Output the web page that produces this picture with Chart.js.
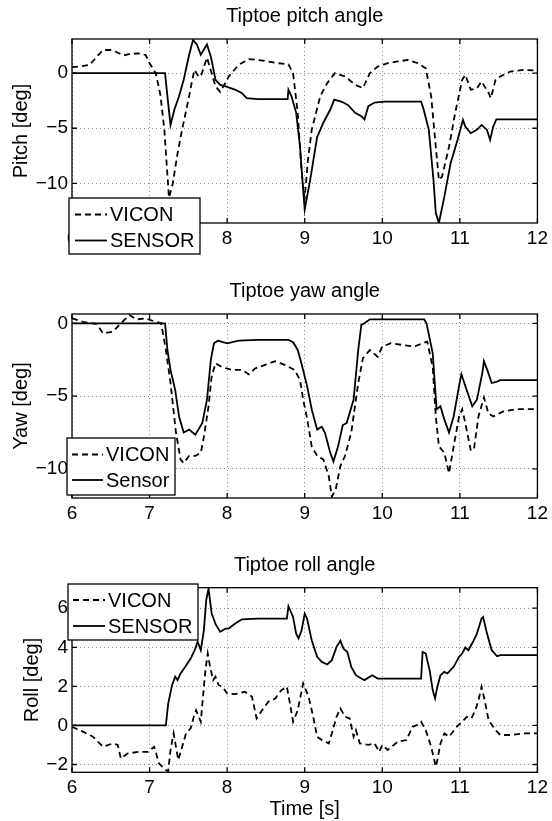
<!DOCTYPE html>
<html>
<head>
<meta charset="utf-8">
<title>Tiptoe angles</title>
<script src="https://cdn.jsdelivr.net/npm/chart.js@4.4.1/dist/chart.umd.min.js"></script>
<style>
    body { margin: 0; background: #fff; }
    .wrap { position: relative; width: 552px; height: 821px; }
    canvas { position: absolute; left: 0; }
</style>
</head>
<body>
<div class="wrap">
    <canvas id="pitchChart" width="552" height="270" style="top:0px"></canvas>
    <canvas id="yawChart" width="552" height="270" style="top:270px"></canvas>
    <canvas id="rollChart" width="552" height="281" style="top:540px"></canvas>
</div>
<script>
// Shared x axis
const timeTicks = [6, 7, 8, 9, 10, 11, 12];

// Pitch
const pitchTicks = [-10, -5, 0];
const pitchViconT = [6.00, 6.10, 6.23, 6.32, 6.40, 6.50, 6.58, 6.66, 6.75, 6.85, 6.95, 7.00, 7.08, 7.14, 7.19, 7.25, 7.30, 7.36, 7.42, 7.51, 7.55, 7.58, 7.63, 7.66, 7.74, 7.80, 7.85, 7.91, 7.96, 8.02, 8.15, 8.28, 8.40, 8.53, 8.66, 8.79, 8.85, 8.91, 8.95, 8.98, 9.00, 9.04, 9.09, 9.20, 9.29, 9.39, 9.52, 9.65, 9.75, 9.84, 9.94, 10.07, 10.20, 10.33, 10.46, 10.56, 10.63, 10.69, 10.73, 10.77, 10.86, 10.94, 11.03, 11.07, 11.14, 11.22, 11.28, 11.37, 11.40, 11.46, 11.52, 11.65, 11.82, 12.00];
const pitchViconV = [0.55, 0.6, 0.76, 1.5, 2.1, 2.1, 1.9, 1.6, 1.75, 1.8, 1.65, 0.9, 0, -2.0, -5.1, -11.3, -10.0, -7.3, -5.1, -2.1, -0.6, 0.3, -0.3, -0.3, 1.4, 0, -1.2, -1.7, -1.1, -0.3, 0.76, 1.27, 1.2, 1.06, 0.9, 0.8, 0, -3.6, -8.0, -10.5, -11.3, -8.0, -5.15, -2.1, -0.9, 0, -0.3, -1.06, -1.36, 0, 0.6, 0.9, 1.06, 1.2, 0.9, 0.45, -2.1, -6.7, -9.7, -9.4, -6.7, -3.6, -0.6, -0.15, -1.5, -1.36, -0.76, -1.8, -2.27, -0.6, -0.3, 0.15, 0.3, 0.24];
const pitchSensorT = [6.00, 7.20, 7.23, 7.27, 7.32, 7.38, 7.44, 7.51, 7.56, 7.61, 7.66, 7.74, 7.79, 7.85, 7.91, 7.98, 8.10, 8.19, 8.25, 8.40, 8.78, 8.79, 8.83, 8.89, 8.94, 8.98, 9.00, 9.07, 9.16, 9.24, 9.33, 9.38, 9.48, 9.56, 9.65, 9.73, 9.77, 9.82, 9.90, 10.03, 10.50, 10.53, 10.60, 10.66, 10.69, 10.73, 10.80, 10.88, 10.97, 11.04, 11.07, 11.14, 11.22, 11.28, 11.35, 11.39, 11.43, 11.47, 12.00];
const pitchSensorV = [0, 0, -2.1, -4.7, -3.3, -2.1, -0.6, 1.67, 3.0, 2.6, 1.67, 2.6, 1.5, -0.6, -1.06, -1.2, -1.5, -1.8, -2.27, -2.36, -2.36, -1.5, -2.1, -3.6, -6.7, -10.6, -12.4, -9.7, -5.8, -4.5, -3.3, -2.4, -2.6, -2.9, -3.6, -3.9, -4.2, -3.0, -2.67, -2.58, -2.58, -3.2, -5.15, -9.7, -12.7, -13.6, -11.2, -8.2, -6.06, -4.24, -4.85, -5.45, -5.15, -4.7, -5.15, -6.06, -4.85, -4.2, -4.2];

// Yaw
const yawTicks = [-10, -5, 0];
const yawViconT = [6.00, 6.14, 6.32, 6.40, 6.53, 6.61, 6.74, 6.83, 6.95, 7.08, 7.15, 7.21, 7.27, 7.34, 7.40, 7.44, 7.51, 7.59, 7.66, 7.70, 7.76, 7.80, 7.85, 7.93, 8.06, 8.19, 8.28, 8.36, 8.49, 8.62, 8.74, 8.87, 8.94, 8.98, 9.03, 9.09, 9.16, 9.24, 9.31, 9.35, 9.40, 9.46, 9.52, 9.60, 9.69, 9.75, 9.84, 9.94, 10.00, 10.11, 10.28, 10.41, 10.52, 10.58, 10.65, 10.69, 10.73, 10.80, 10.86, 10.92, 10.99, 11.03, 11.07, 11.14, 11.18, 11.24, 11.31, 11.37, 11.43, 11.56, 11.73, 12.00];
const yawViconV = [0.34, 0.1, -0.05, -0.7, -0.57, -0.1, 0.57, 0.27, 0.34, 0.1, 0, -1.83, -4.1, -7.5, -9.36, -9.6, -9.1, -9.1, -8.9, -7.8, -5.7, -3.65, -2.74, -3.0, -3.2, -3.2, -3.5, -3.1, -2.85, -2.6, -2.85, -3.2, -3.9, -5.25, -6.5, -8.45, -9.1, -9.36, -10.5, -11.9, -11.4, -9.8, -9.1, -7.5, -4.1, -2.4, -1.83, -2.3, -1.6, -1.37, -1.5, -1.6, -1.37, -1.26, -3.0, -6.4, -8.45, -8.9, -10.3, -8.45, -6.4, -5.9, -6.85, -8.7, -8.7, -6.4, -5.1, -6.2, -6.4, -6.05, -5.9, -5.9];
const yawSensorT = [6.00, 7.20, 7.23, 7.27, 7.33, 7.38, 7.44, 7.51, 7.59, 7.68, 7.74, 7.79, 7.83, 7.88, 8.00, 8.15, 8.40, 8.79, 8.85, 8.91, 8.96, 9.00, 9.03, 9.09, 9.16, 9.22, 9.26, 9.33, 9.37, 9.43, 9.49, 9.54, 9.63, 9.69, 9.73, 9.77, 9.84, 10.54, 10.57, 10.65, 10.70, 10.75, 10.80, 10.86, 10.92, 10.99, 11.02, 11.07, 11.16, 11.22, 11.29, 11.31, 11.36, 11.41, 11.48, 11.52, 12.00];
const yawSensorV = [0, 0, -1.83, -3.2, -4.57, -6.4, -7.5, -7.3, -7.65, -6.85, -5.25, -2.5, -1.37, -1.19, -1.37, -1.19, -1.14, -1.14, -1.3, -1.83, -2.8, -3.65, -4.3, -5.9, -7.3, -7.1, -7.5, -8.9, -9.5, -8.45, -7.0, -6.85, -5.25, -1.83, -0.11, 0, 0.27, 0.27, 0, -2.05, -5.9, -5.7, -6.6, -7.5, -6.4, -4.3, -3.5, -4.3, -5.7, -5.25, -3.4, -2.6, -3.3, -4.1, -4.0, -3.9, -3.9];

// Roll
const rollTicks = [-2, 0, 2, 4, 6];
const rollViconT = [6.00, 6.14, 6.27, 6.40, 6.53, 6.59, 6.63, 6.72, 6.87, 6.98, 7.06, 7.12, 7.21, 7.24, 7.27, 7.31, 7.34, 7.37, 7.42, 7.47, 7.53, 7.57, 7.60, 7.66, 7.70, 7.72, 7.75, 7.78, 7.82, 7.85, 7.89, 7.94, 8.00, 8.10, 8.23, 8.32, 8.38, 8.45, 8.53, 8.62, 8.70, 8.77, 8.81, 8.85, 8.91, 8.98, 9.05, 9.11, 9.16, 9.22, 9.31, 9.35, 9.41, 9.46, 9.52, 9.58, 9.63, 9.66, 9.71, 9.82, 9.90, 9.96, 10.00, 10.07, 10.20, 10.31, 10.39, 10.45, 10.50, 10.56, 10.63, 10.69, 10.71, 10.75, 10.80, 10.86, 10.96, 11.03, 11.09, 11.15, 11.20, 11.24, 11.28, 11.32, 11.37, 11.46, 11.52, 11.65, 11.82, 12.00];
const rollViconV = [-0.07, -0.32, -0.58, -1.09, -0.92, -1.0, -1.69, -1.43, -1.35, -1.35, -1.09, -1.94, -2.28, -2.35, -1.26, -0.41, -1.09, -1.77, -1.09, -0.41, -0.15, 0.44, 0.78, 0.19, 1.98, 2.83, 3.68, 3.0, 2.32, 2.49, 2.06, 1.98, 1.64, 1.6, 1.72, 1.47, 0.36, 0.78, 1.21, 1.38, 1.81, 1.98, 1.12, 0.19, 0.78, 2.15, 1.47, 0.44, -0.58, -0.75, -0.92, -0.41, 0.44, 0.87, 0.44, 0.36, -0.58, -0.24, -0.92, -1.0, -0.92, -1.35, -1.0, -1.26, -0.83, -0.75, -0.07, 0.02, 0.19, -0.24, -1.09, -2.11, -1.77, -0.92, -0.41, -0.58, -0.07, 0.19, 0.44, 0.36, 0.78, 1.29, 1.98, 1.29, 0.27, -0.24, -0.49, -0.49, -0.41, -0.41];
const rollSensorT = [6.00, 7.21, 7.24, 7.29, 7.33, 7.36, 7.40, 7.46, 7.53, 7.59, 7.62, 7.66, 7.70, 7.73, 7.76, 7.80, 7.85, 7.91, 7.98, 8.02, 8.10, 8.19, 8.40, 8.77, 8.79, 8.85, 8.89, 8.92, 8.96, 9.00, 9.03, 9.09, 9.16, 9.22, 9.29, 9.35, 9.41, 9.46, 9.50, 9.55, 9.60, 9.66, 9.73, 9.77, 9.87, 9.94, 10.50, 10.52, 10.56, 10.61, 10.65, 10.68, 10.71, 10.75, 10.80, 10.84, 10.92, 10.99, 11.03, 11.07, 11.11, 11.18, 11.22, 11.28, 11.30, 11.35, 11.41, 11.48, 11.52, 12.00];
const rollSensorV = [0, 0, 1.12, 2.06, 2.49, 2.32, 2.66, 3.0, 3.42, 3.93, 4.28, 3.85, 4.87, 6.4, 7.0, 5.74, 5.2, 4.79, 4.96, 4.96, 5.2, 5.43, 5.47, 5.47, 6.1, 5.55, 4.7, 4.45, 4.87, 5.72, 5.47, 4.36, 3.51, 3.25, 3.12, 3.34, 4.02, 4.33, 3.93, 3.76, 3.0, 2.57, 2.4, 2.32, 2.57, 2.4, 2.4, 3.76, 3.68, 2.83, 1.81, 1.38, 1.98, 2.57, 2.74, 2.66, 3.0, 3.51, 3.68, 3.99, 3.85, 4.36, 4.7, 5.47, 5.55, 4.7, 3.85, 3.54, 3.6, 3.6];

const FONT = 'Liberation Sans, Arial, Helvetica, sans-serif';

function toPoints(ts, vs) {
    return ts.map((t, i) => ({ x: t, y: vs[i] }));
}

function minusSign(value) {
    return String(value).replace('-', '\u2212');
}

// MATLAB style box with inward ticks, plus a hand drawn legend
const frameLegend = {
    id: 'frameLegend',
    afterDatasetsDraw(chart) {
        const { ctx, chartArea: a, scales } = chart;
        ctx.save();
        ctx.strokeStyle = '#000';
        ctx.lineWidth = 1.3;
        ctx.setLineDash([]);
        ctx.strokeRect(a.left, a.top, a.right - a.left, a.bottom - a.top);
        ctx.beginPath();
        scales.x.ticks.forEach(t => {
            const px = scales.x.getPixelForValue(t.value);
            ctx.moveTo(px, a.bottom); ctx.lineTo(px, a.bottom - 5);
            ctx.moveTo(px, a.top); ctx.lineTo(px, a.top + 5);
        });
        scales.y.ticks.forEach(t => {
            const py = scales.y.getPixelForValue(t.value);
            ctx.moveTo(a.left, py); ctx.lineTo(a.left + 5, py);
            ctx.moveTo(a.right, py); ctx.lineTo(a.right - 5, py);
        });
        ctx.stroke();
        ctx.restore();
    },
    afterDraw(chart, args, opts) {
        const ctx = chart.ctx;
        const b = opts.box;
        ctx.save();
        ctx.fillStyle = '#fff';
        ctx.fillRect(b[0], b[1], b[2], b[3]);
        ctx.strokeStyle = '#000';
        ctx.lineWidth = 1.3;
        ctx.strokeRect(b[0], b[1], b[2], b[3]);
        chart.data.datasets.forEach((ds, i) => {
            const y = opts.rows[i];
            ctx.beginPath();
            ctx.lineWidth = 1.8;
            ctx.setLineDash(ds.borderDash || []);
            ctx.moveTo(opts.lineX[0], y);
            ctx.lineTo(opts.lineX[1], y);
            ctx.stroke();
            ctx.setLineDash([]);
            ctx.fillStyle = '#000';
            ctx.font = '20px ' + FONT;
            ctx.textBaseline = 'middle';
            ctx.textAlign = 'left';
            ctx.fillText(ds.label, opts.textX, y + 1);
        });
        ctx.restore();
    }
};

function makeChart(id, cfg) {
    const ctx = document.getElementById(id).getContext('2d');
    return new Chart(ctx, {
        type: 'line',
        data: {
            datasets: [{
                label: 'VICON',
                data: toPoints(cfg.viconT, cfg.viconV),
                borderColor: '#000',
                borderWidth: 1.8,
                borderDash: [6, 4],
                pointRadius: 0,
                tension: 0
            }, {
                label: cfg.sensorName,
                data: toPoints(cfg.sensorT, cfg.sensorV),
                borderColor: '#000',
                borderWidth: 1.8,
                pointRadius: 0,
                tension: 0
            }]
        },
        options: {
            responsive: false,
            animation: false,
            layout: { padding: { top: 0, right: 11, left: 0, bottom: 0 } },
            plugins: {
                legend: { display: false },
                tooltip: { enabled: false },
                title: {
                    display: true,
                    fullSize: false,
                    text: cfg.title,
                    color: '#000',
                    font: { family: FONT, size: 20, weight: 'normal' },
                    padding: { top: cfg.titleTop, bottom: 10.5 }
                },
                frameLegend: cfg.legend
            },
            scales: {
                x: {
                    type: 'linear',
                    min: 6,
                    max: 12,
                    afterBuildTicks: s => { s.ticks = timeTicks.map(v => ({ value: v })); },
                    afterFit: s => { s.height = cfg.xHeight; },
                    ticks: { color: '#000', font: { family: FONT, size: 19 }, padding: 4, maxRotation: 0, autoSkip: false },
                    grid: { color: 'rgba(0,0,0,0.45)', lineWidth: 1, drawTicks: false },
                    border: { display: false, dash: [1, 3] },
                    title: {
                        display: !!cfg.xTitle,
                        text: cfg.xTitle || '',
                        color: '#000',
                        font: { family: FONT, size: 20, lineHeight: 1 },
                        padding: { top: 0, bottom: 2 }
                    }
                },
                y: {
                    type: 'linear',
                    min: cfg.yMin,
                    max: cfg.yMax,
                    afterBuildTicks: s => { s.ticks = cfg.yTicks.map(v => ({ value: v })); },
                    afterFit: s => { s.width = 72; },
                    ticks: { color: '#000', font: { family: FONT, size: 19 }, padding: 4, callback: minusSign },
                    grid: { color: 'rgba(0,0,0,0.45)', lineWidth: 1, drawTicks: false },
                    border: { display: false, dash: [1, 3] },
                    title: {
                        display: true,
                        text: cfg.yTitle,
                        color: '#000',
                        font: { family: FONT, size: 20, lineHeight: 1 },
                        padding: { top: cfg.yTitlePad, bottom: 0 }
                    }
                }
            }
        },
        plugins: [frameLegend]
    });
}

document.addEventListener('DOMContentLoaded', function() {
    makeChart('pitchChart', {
        title: 'Tiptoe pitch angle',
        titleTop: 4.5,
        yTitle: 'Pitch [deg]',
        yTitlePad: 11,
        yMin: -13.6, yMax: 3.1, yTicks: pitchTicks,
        xHeight: 47,
        viconT: pitchViconT, viconV: pitchViconV,
        sensorT: pitchSensorT, sensorV: pitchSensorV,
        sensorName: 'SENSOR',
        legend: { box: [69, 198, 131, 56], rows: [214.5, 240.5], lineX: [75, 107], textX: 110 }
    });

    makeChart('yawChart', {
        title: 'Tiptoe yaw angle',
        titleTop: 9.5,
        yTitle: 'Yaw [deg]',
        yTitlePad: 11,
        yMin: -12, yMax: 0.64, yTicks: yawTicks,
        xHeight: 42,
        viconT: yawViconT, viconV: yawViconV,
        sensorT: yawSensorT, sensorV: yawSensorV,
        sensorName: 'Sensor',
        legend: { box: [67, 168, 108, 57], rows: [184.5, 210], lineX: [72, 103], textX: 106 }
    });

    makeChart('rollChart', {
        title: 'Tiptoe roll angle',
        titleTop: 13.2,
        yTitle: 'Roll [deg]',
        yTitlePad: 22,
        yMin: -2.4, yMax: 7.05, yTicks: rollTicks,
        xHeight: 48.7,
        xTitle: 'Time [s]',
        viconT: rollViconT, viconV: rollViconV,
        sensorT: rollSensorT, sensorV: rollSensorV,
        sensorName: 'SENSOR',
        legend: { box: [68, 44, 130, 56], rows: [60, 86], lineX: [73, 105], textX: 108 }
    });
});
</script>
</body>
</html>
